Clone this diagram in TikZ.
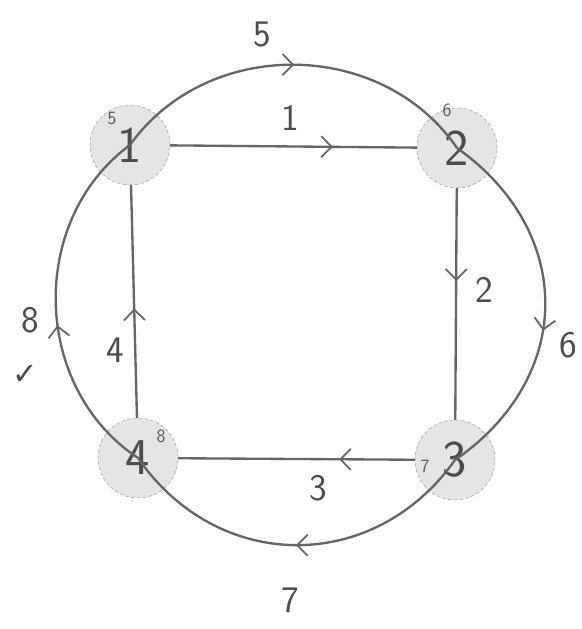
\documentclass[tikz,border=0pt]{standalone}
\usepackage{fontspec}
\newfontfamily\symfont{DejaVu Sans}
\usetikzlibrary{arrows.meta,decorations.markings,positioning}
\tikzset{
	>=Straight Barb,
	nodes={align=center},
}
\begin{document}
\begin{tikzpicture}[x=0.03cm, y=0.03cm,%
		vertex/.style={circle, draw=black!40, densely dashed, fill=black!10, minimum size=2.4cm, inner sep=0pt, text=black!70, font=\sffamily\fontsize{44}{46}\selectfont},%
		edge/.style={draw=black!60, line width=2pt},%
		midarrow/.style={postaction={decorate}, decoration={markings, mark=at position #1 with {\arrow{Straight Barb[length=9pt, width=18pt, line width=1.5pt]}}}},%
		lbl/.style={text=black!70, font=\sffamily\fontsize{32}{34}\selectfont},%
		tag/.style={text=black!65, font=\sffamily\fontsize{16}{18}\selectfont}]
	\useasboundingbox (0,0) rectangle (581,629);

	\node[vertex] (v1) at (130,484) {1};
	\node[vertex] (v2) at (457,481) {2};
	\node[vertex] (v3) at (455,169) {3};
	\node[vertex] (v4) at (138,171) {4};

	% inner square
	\draw[edge, midarrow=.66] (v1) -- (v2);
	\draw[edge, midarrow=.4] (v2) -- (v3);
	\draw[edge, midarrow=.32] (v3) -- (v4);
	\draw[edge, midarrow=.47] (v4) -- (v1);

	% outer ring
	\draw[edge, midarrow=.5] (v1.center) to[bend left=55, looseness=1.04] (v2.center);
	\draw[edge, midarrow=.57] (v2.center) to[bend left=55, looseness=1.19] (v3.center);
	\draw[edge, midarrow=.5] (v3.center) to[bend left=55, looseness=1.13] (v4.center);
	\draw[edge, midarrow=.44] (v4.center) to[bend left=55, looseness=1.04] (v1.center);

	\node[lbl] (l1) at (290,511) {1};
	\node[lbl] (l2) at (484,339) {2};
	\node[lbl] (l3) at (318,141) {3};
	\node[lbl] (l4) at (115,279) {4};
	\node[lbl] (l5) at (262,594) {5};
	\node[lbl] (l6) at (568,284) {6};
	\node[lbl] (l7) at (290,29) {7};
	\node[lbl] (l8) at (30,309) {8};
	\node[text=black!70, font=\symfont\fontsize{26}{28}\selectfont] (chk) at (25,254) {✓};

	\node[tag] (t5) at (112,510) {5};
	\node[tag] (t6) at (447,519) {6};
	\node[tag] (t7) at (425,163) {7};
	\node[tag] (t8) at (161,193) {8};
\end{tikzpicture}
\end{document}
